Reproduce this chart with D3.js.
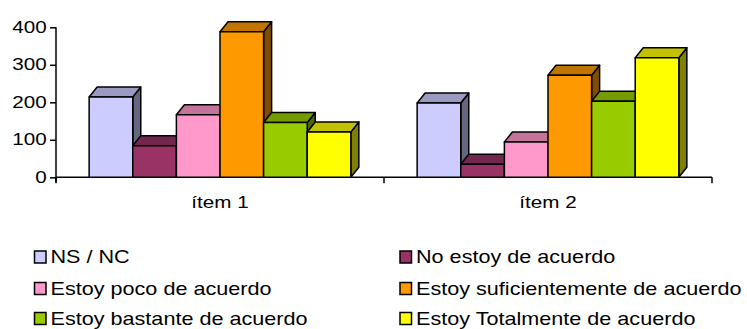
<!DOCTYPE html>
<html>
<head>
<meta charset="utf-8">
<script src="https://cdn.jsdelivr.net/npm/d3@7"></script>
<style>
  html, body { margin: 0; padding: 0; background: #fff; }
  svg { display: block; font-family: "Liberation Sans", Arial, sans-serif; }
</style>
</head>
<body>
<svg id="chart" width="747" height="329"></svg>
<script>
// Categories, series and values
const categories = ["ítem 1", "ítem 2"];
const seriesNames = [
  "NS / NC",
  "No estoy de acuerdo",
  "Estoy poco de acuerdo",
  "Estoy suficientemente de acuerdo",
  "Estoy bastante de acuerdo",
  "Estoy Totalmente de acuerdo"
];
const seriesColors = ["#CCCCFF", "#993366", "#FF99CC", "#FF9900", "#99CC00", "#FFFF00"];
const item1Values = [214, 84, 167, 388, 146, 121];
const item2Values = [198, 35, 94, 272, 203, 319];
const yTicks = [0, 100, 200, 300, 400];

const values = [item1Values, item2Values];

const svg = d3.select("#chart");

const plot = { left: 56, right: 712, top: 27.3, bottom: 177.3 };
const depth = { dx: 8, dy: 10 };
const stretch = 1.29; // wide-set axis lettering

const x0 = d3.scaleBand().domain(categories).range([plot.left, plot.right]).paddingInner(0).paddingOuter(0);
const x1 = d3.scaleBand().domain(d3.range(seriesNames.length))
  .range([0, x0.bandwidth()]).paddingOuter(0.76).paddingInner(0);
const y = d3.scaleLinear().domain([0, 400]).range([plot.bottom, plot.top]);

const shade = (c, k) => {
  const r = d3.rgb(c);
  return d3.rgb(r.r * k, r.g * k, r.b * k).formatHex();
};

// Y axis
const yAxis = d3.axisLeft(y).tickValues(yTicks).tickSize(6).tickPadding(1.2).tickFormat(d3.format("d"));
const gy = svg.append("g").attr("transform", `translate(${plot.left},0)`).call(yAxis);
gy.select(".domain").attr("stroke", "#000").attr("stroke-width", 1.5)
  .attr("d", `M0,${plot.top}V${plot.bottom + 5}`);
gy.selectAll(".tick line").attr("stroke", "#000").attr("stroke-width", 1.5);
gy.selectAll(".tick text").attr("fill", "#000").style("font-size", "16px")
  .style("font-family", "'Liberation Sans', Arial, sans-serif")
  .attr("transform", `scale(${stretch},1)`);

// X axis
const xAxis = d3.axisBottom(x0).tickSize(0).tickPadding(19);
const gx = svg.append("g").attr("transform", `translate(0,${plot.bottom})`).call(xAxis);
gx.select(".domain").attr("stroke", "#000").attr("stroke-width", 1.5)
  .attr("d", `M${plot.left},0H${plot.right}`);
gx.selectAll(".tick text").attr("fill", "#000").style("font-size", "16px")
  .style("font-family", "'Liberation Sans', Arial, sans-serif")
  .attr("transform", `scale(${stretch},1)`);
// category boundary ticks
const bounds = [plot.left, x0(categories[1]), plot.right];
svg.append("g").selectAll("line").data(bounds).join("line")
  .attr("x1", d => d).attr("x2", d => d)
  .attr("y1", plot.bottom).attr("y2", plot.bottom + 6)
  .attr("stroke", "#000").attr("stroke-width", 1.5);

// 3D bars, painted left to right
const bars = [];
categories.forEach((cat, ci) => {
  values[ci].forEach((v, si) => {
    bars.push({ cat, si, v });
  });
});

const gBars = svg.append("g");
bars.forEach(b => {
  const xl = x0(b.cat) + x1(b.si);
  const xr = xl + x1.bandwidth();
  const yt = y(b.v);
  const yb = y(0);
  const col = seriesColors[b.si];
  const g = gBars.append("g")
    .attr("stroke", "#000").attr("stroke-width", 1.5).attr("stroke-linejoin", "round");
  // side face
  g.append("path")
    .attr("d", `M${xr},${yt}L${xr + depth.dx},${yt - depth.dy}L${xr + depth.dx},${yb - depth.dy}L${xr},${yb}Z`)
    .attr("fill", shade(col, 0.5));
  // top face
  g.append("path")
    .attr("d", `M${xl},${yt}L${xl + depth.dx},${yt - depth.dy}L${xr + depth.dx},${yt - depth.dy}L${xr},${yt}Z`)
    .attr("fill", shade(col, 0.76));
  // front face
  g.append("rect")
    .attr("x", xl).attr("y", yt).attr("width", xr - xl).attr("height", yb - yt)
    .attr("fill", col);
});

// Legend
const legendCols = [34.5, 400];
const legendRows = [257, 288.5, 318.5];
const gl = svg.append("g");
seriesNames.forEach((name, i) => {
  const lx = legendCols[i % 2];
  const ly = legendRows[Math.floor(i / 2)];
  gl.append("rect")
    .attr("x", lx).attr("y", ly - 6).attr("width", 11.5).attr("height", 12)
    .attr("fill", seriesColors[i]).attr("stroke", "#000").attr("stroke-width", 1.5);
  gl.append("g")
    .attr("transform", `translate(${lx + 16},${ly}) scale(1.235,1)`)
    .append("text")
    .attr("dy", "0.36em")
    .style("font-size", "17.5px").attr("fill", "#000")
    .text(name);
});
</script>
</body>
</html>
